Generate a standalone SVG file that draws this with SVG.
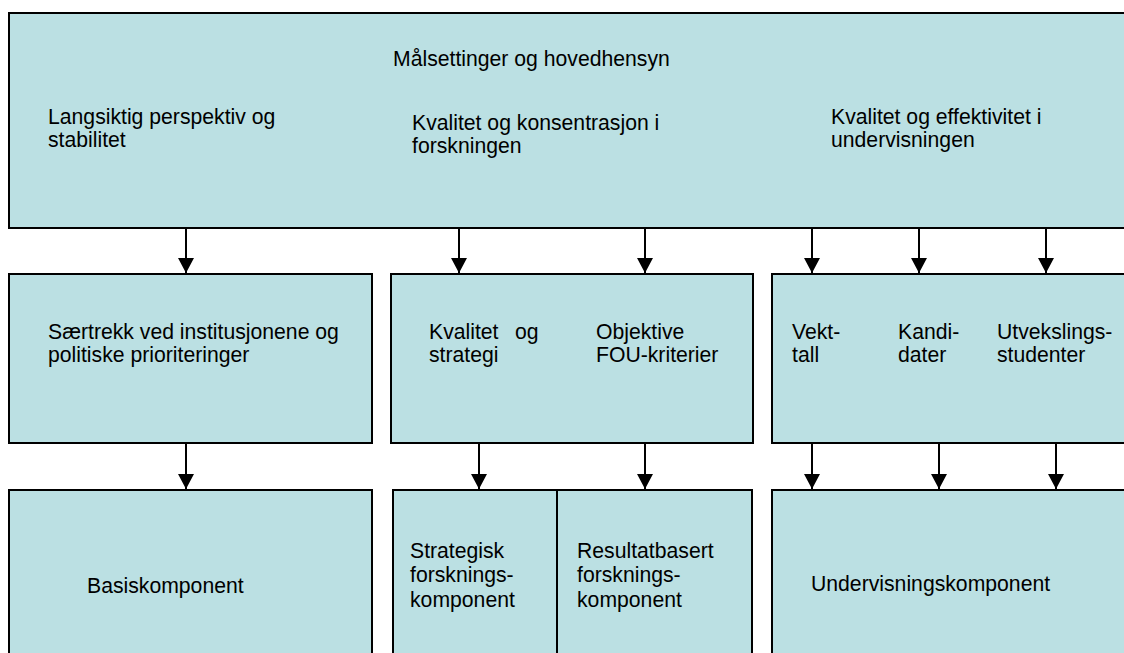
<svg xmlns="http://www.w3.org/2000/svg" width="1124" height="653" viewBox="0 0 1124 653">
<style>
.box{fill:#BBE0E3;stroke:#000;stroke-width:2}
.t{font-family:"Liberation Sans",Arial,sans-serif;font-size:21.2px;fill:#000}
.c{stroke:#000;stroke-width:2;fill:none}
</style>
<defs>
<marker id="ah" markerUnits="userSpaceOnUse" markerWidth="16" markerHeight="16" viewBox="0 0 16 16" refX="15" refY="8" orient="auto">
<path d="M0,0 L15,8 L0,16 Z" fill="#000"/>
</marker>
</defs>
<rect width="1124" height="653" fill="#fff"/>
<g id="top">
<rect class="box" x="9" y="13" width="1125" height="215"/>
<text class="t" x="393" y="66">Målsettinger og hovedhensyn</text>
<text class="t" x="48" y="124">Langsiktig perspektiv og<tspan x="48" y="147">stabilitet</tspan></text>
<text class="t" x="412" y="130">Kvalitet og konsentrasjon i<tspan x="412" y="153">forskningen</tspan></text>
<text class="t" x="831" y="124">Kvalitet og effektivitet i<tspan x="831" y="147">undervisningen</tspan></text>
</g>
<g id="mid-left">
<rect class="box" x="9" y="274" width="363" height="169"/>
<text class="t" x="48" y="339">Særtrekk ved institusjonene og<tspan x="48" y="362">politiske prioriteringer</tspan></text>
</g>
<g id="mid-center">
<rect class="box" x="391" y="274" width="362" height="169"/>
<text class="t" x="429" y="339">Kvalitet<tspan x="515">og</tspan><tspan x="429" y="362">strategi</tspan></text>
<text class="t" x="596" y="339">Objektive<tspan x="596" y="362">FOU-kriterier</tspan></text>
</g>
<g id="mid-right">
<rect class="box" x="772" y="274" width="362" height="169"/>
<text class="t" x="792" y="339">Vekt-<tspan x="792" y="362">tall</tspan></text>
<text class="t" x="898" y="339">Kandi-<tspan x="898" y="362">dater</tspan></text>
<text class="t" x="997" y="339">Utvekslings-<tspan x="997" y="362">studenter</tspan></text>
</g>
<g id="basis">
<rect class="box" x="9" y="490" width="363" height="175"/>
<text class="t" x="87" y="593">Basiskomponent</text>
</g>
<g id="strategisk">
<rect class="box" x="393" y="490" width="164" height="175"/>
<text class="t" x="410" y="558">Strategisk<tspan x="410" y="582">forsknings-</tspan><tspan x="410" y="607">komponent</tspan></text>
</g>
<g id="resultat">
<rect class="box" x="557" y="490" width="195" height="175"/>
<text class="t" x="577" y="558">Resultatbasert<tspan x="577" y="582">forsknings-</tspan><tspan x="577" y="607">komponent</tspan></text>
</g>
<g id="undervisning">
<rect class="box" x="772" y="490" width="362" height="175"/>
<text class="t" x="811" y="591">Undervisningskomponent</text>
</g>
<g id="connectors">
<line class="c" x1="186" y1="229" x2="186" y2="273" marker-end="url(#ah)"/>
<line class="c" x1="459" y1="229" x2="459" y2="273" marker-end="url(#ah)"/>
<line class="c" x1="645" y1="229" x2="645" y2="273" marker-end="url(#ah)"/>
<line class="c" x1="812" y1="229" x2="812" y2="273" marker-end="url(#ah)"/>
<line class="c" x1="919" y1="229" x2="919" y2="273" marker-end="url(#ah)"/>
<line class="c" x1="1046" y1="229" x2="1046" y2="273" marker-end="url(#ah)"/>
<line class="c" x1="186" y1="444" x2="186" y2="489" marker-end="url(#ah)"/>
<line class="c" x1="479" y1="444" x2="479" y2="489" marker-end="url(#ah)"/>
<line class="c" x1="645" y1="444" x2="645" y2="489" marker-end="url(#ah)"/>
<line class="c" x1="812" y1="444" x2="812" y2="489" marker-end="url(#ah)"/>
<line class="c" x1="939" y1="444" x2="939" y2="489" marker-end="url(#ah)"/>
<line class="c" x1="1056" y1="444" x2="1056" y2="489" marker-end="url(#ah)"/>
</g>
</svg>
